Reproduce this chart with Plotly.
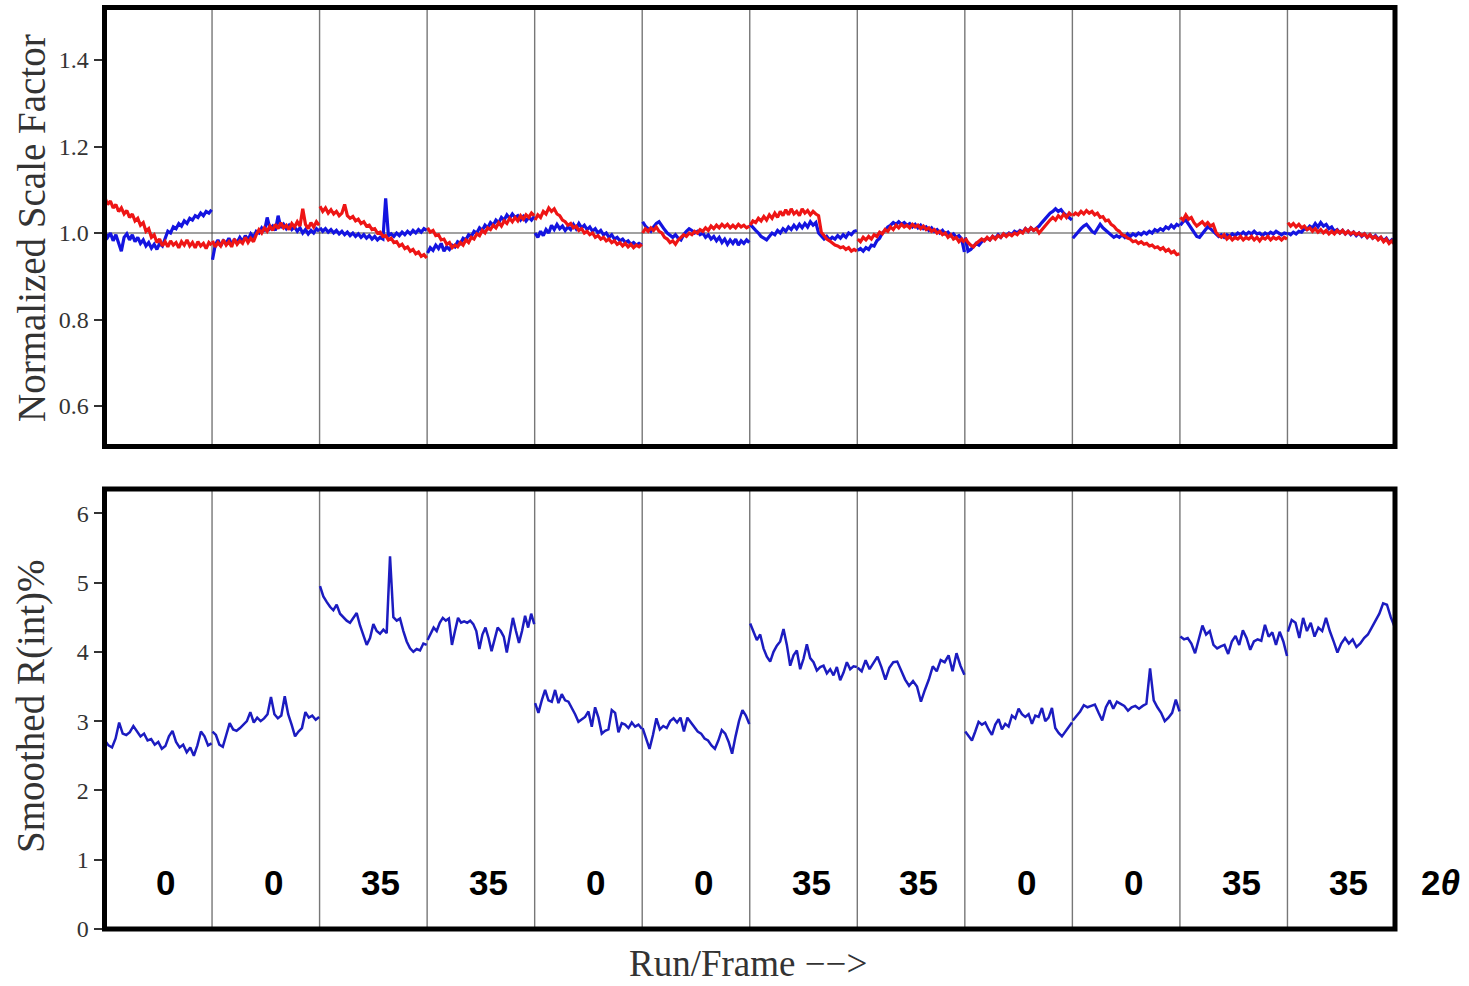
import numpy as np
import plotly.graph_objects as go

# ---------------- data ----------------
angle_labels = ["0", "0", "35", "35", "0", "0", "35", "35", "0", "0", "35", "35"]

scale_red = [
    [1.082, 1.066, 1.074, 1.058, 1.066, 1.05, 1.058, 1.044, 1.052, 1.036, 1.044, 1.028, 1.034, 1.018, 1.024, 1.004, 1.01, 0.99, 0.996, 0.978, 0.986, 0.97, 0.98, 0.968, 0.982, 0.972, 0.978, 0.966, 0.98, 0.972, 0.984, 0.97, 0.978, 0.966, 0.98, 0.97, 0.976, 0.964, 0.978, 0.972],
    [0.982, 0.968, 0.978, 0.97, 0.984, 0.972, 0.98, 0.968, 0.986, 0.974, 0.982, 0.976, 0.99, 0.978, 0.988, 0.98, 0.996, 1.008, 1.0, 1.012, 1.004, 1.016, 1.006, 1.02, 1.01, 1.024, 1.012, 1.018, 1.008, 1.022, 1.014, 1.026, 1.016, 1.056, 1.02, 1.01, 1.024, 1.014, 1.026, 1.018],
    [1.062, 1.05, 1.058, 1.046, 1.054, 1.044, 1.05, 1.04, 1.046, 1.066, 1.04, 1.034, 1.038, 1.028, 1.032, 1.022, 1.026, 1.016, 1.018, 1.008, 1.01, 1.0, 1.002, 0.992, 0.994, 0.984, 0.988, 0.978, 0.98, 0.97, 0.974, 0.964, 0.968, 0.958, 0.962, 0.952, 0.956, 0.946, 0.95, 0.942],
    [1.012, 1.002, 1.006, 0.994, 0.996, 0.984, 0.986, 0.974, 0.978, 0.966, 0.972, 0.968, 0.978, 0.972, 0.984, 0.978, 0.99, 0.986, 0.998, 0.994, 1.006, 1.0, 1.012, 1.008, 1.018, 1.012, 1.024, 1.016, 1.028, 1.022, 1.034, 1.026, 1.036, 1.028, 1.04, 1.032, 1.042, 1.036, 1.046, 1.04],
    [1.03, 1.042, 1.036, 1.05, 1.044, 1.058, 1.05, 1.056, 1.044, 1.04, 1.03, 1.026, 1.018, 1.022, 1.012, 1.016, 1.006, 1.01, 1.0, 1.004, 0.996, 1.0, 0.99, 0.994, 0.986, 0.99, 0.982, 0.986, 0.978, 0.982, 0.974, 0.978, 0.97, 0.976, 0.968, 0.974, 0.966, 0.972, 0.968, 0.974],
    [1.0, 1.01, 1.004, 1.012, 1.006, 1.014, 1.004, 1.0, 0.99, 0.986, 0.978, 0.982, 0.974, 0.984, 0.99, 0.996, 0.992, 1.0, 0.996, 1.004, 1.0, 1.008, 1.004, 1.012, 1.006, 1.016, 1.01, 1.018, 1.012, 1.02, 1.014, 1.02, 1.012, 1.018, 1.012, 1.02, 1.014, 1.018, 1.012, 1.016],
    [1.018, 1.028, 1.024, 1.034, 1.028, 1.038, 1.03, 1.042, 1.034, 1.046, 1.036, 1.05, 1.04, 1.054, 1.042, 1.056, 1.044, 1.05, 1.04, 1.056, 1.046, 1.052, 1.042, 1.05, 1.044, 1.04, 1.002, 0.994, 0.986, 0.982, 0.976, 0.972, 0.97, 0.966, 0.968, 0.962, 0.966, 0.958, 0.962, 0.958],
    [0.986, 0.98, 0.99, 0.984, 0.992, 0.986, 0.996, 0.992, 1.002, 0.998, 1.008, 1.004, 1.014, 1.008, 1.018, 1.012, 1.02, 1.014, 1.018, 1.012, 1.02, 1.014, 1.018, 1.01, 1.016, 1.008, 1.012, 1.004, 1.008, 1.0, 1.004, 0.996, 1.0, 0.99, 0.996, 0.986, 0.99, 0.98, 0.986, 0.978],
    [0.988, 0.978, 0.972, 0.968, 0.976, 0.98, 0.986, 0.982, 0.99, 0.984, 0.992, 0.986, 0.994, 0.99, 0.998, 0.992, 0.998, 0.994, 1.0, 0.996, 1.004, 1.0, 1.01, 1.004, 1.012, 1.006, 1.01, 1.0, 1.008, 1.016, 1.024, 1.03, 1.036, 1.03, 1.04, 1.034, 1.044, 1.036, 1.046, 1.04],
    [1.04, 1.046, 1.042, 1.05, 1.044, 1.052, 1.046, 1.05, 1.042, 1.046, 1.036, 1.038, 1.028, 1.03, 1.02, 1.016, 1.008, 1.004, 0.996, 0.994, 0.988, 0.986, 0.98, 0.982, 0.976, 0.98, 0.974, 0.976, 0.97, 0.972, 0.966, 0.968, 0.962, 0.966, 0.958, 0.962, 0.954, 0.958, 0.95, 0.952],
    [1.036, 1.03, 1.042, 1.032, 1.036, 1.024, 1.016, 1.022, 1.026, 1.018, 1.024, 1.016, 1.02, 1.002, 0.994, 0.99, 0.996, 0.986, 0.992, 0.984, 0.99, 0.986, 0.992, 0.984, 0.99, 0.986, 0.992, 0.984, 0.99, 0.982, 0.99, 0.986, 0.992, 0.984, 0.99, 0.986, 0.99, 0.984, 0.99, 0.986],
    [1.024, 1.016, 1.022, 1.014, 1.02, 1.012, 1.016, 1.008, 1.012, 1.004, 1.01, 1.002, 1.008, 1.0, 1.006, 0.998, 1.004, 0.998, 1.006, 1.0, 1.006, 0.998, 1.004, 0.998, 1.002, 0.996, 1.0, 0.994, 0.998, 0.99, 0.996, 0.988, 0.992, 0.984, 0.99, 0.98, 0.986, 0.976, 0.982, 0.974],
]

scale_blue = [
    [1.002, 0.99, 1.0, 0.982, 0.996, 0.975, 0.958, 0.99, 0.998, 0.984, 0.996, 0.98, 0.99, 0.976, 0.984, 0.97, 0.978, 0.965, 0.974, 0.962, 0.976, 0.97, 0.99, 1.004, 1.0, 1.014, 1.01, 1.022, 1.016, 1.028, 1.022, 1.034, 1.03, 1.04, 1.036, 1.046, 1.04, 1.05, 1.046, 1.054],
    [0.938, 0.972, 0.984, 0.97, 0.982, 0.976, 0.988, 0.974, 0.984, 0.978, 0.99, 0.98, 0.994, 0.984, 0.998, 0.99, 1.004, 1.0, 1.012, 1.004, 1.036, 1.01, 1.016, 1.006, 1.04, 1.012, 1.02, 1.01, 1.018, 1.008, 1.014, 1.004, 1.012, 1.0, 1.008, 0.998, 1.006, 1.0, 1.01, 1.004],
    [1.012, 1.004, 1.01, 1.002, 1.008, 1.0, 1.006, 0.998, 1.004, 0.996, 1.002, 0.994, 1.0, 0.992, 0.998, 0.99, 0.996, 0.988, 0.994, 0.986, 0.992, 0.984, 0.99, 0.986, 1.08, 0.994, 0.998, 0.992, 1.0, 0.994, 1.002, 0.996, 1.004, 0.998, 1.006, 1.0, 1.008, 1.002, 1.01, 1.006],
    [0.954, 0.966, 0.96, 0.972, 0.964, 0.976, 0.958, 0.968, 0.962, 0.972, 0.968, 0.98, 0.976, 0.988, 0.984, 0.996, 0.992, 1.004, 1.0, 1.012, 1.006, 1.018, 1.012, 1.024, 1.018, 1.03, 1.024, 1.036, 1.03, 1.042, 1.034, 1.044, 1.036, 1.04, 1.03, 1.038, 1.028, 1.036, 1.03, 1.038],
    [1.0, 0.99, 1.004, 0.994, 1.008, 1.0, 1.018, 1.008, 1.02, 1.01, 1.016, 1.006, 1.014, 1.008, 1.02, 1.01, 1.022, 1.012, 1.018, 1.008, 1.014, 1.004, 1.01, 1.0, 1.006, 0.996, 1.0, 0.99, 0.996, 0.986, 0.99, 0.982, 0.986, 0.978, 0.982, 0.974, 0.978, 0.972, 0.976, 0.972],
    [1.026, 1.016, 1.01, 1.004, 1.014, 1.022, 1.026, 1.016, 1.008, 1.0, 0.994, 0.99, 0.996, 0.988, 0.984, 0.996, 1.004, 1.01, 1.006, 1.0, 1.004, 0.996, 1.0, 0.99, 0.996, 0.986, 0.992, 0.982, 0.99, 0.978, 0.986, 0.974, 0.984, 0.976, 0.986, 0.972, 0.982, 0.976, 0.984, 0.978],
    [1.02, 1.012, 1.006, 1.0, 0.992, 0.988, 0.984, 0.992, 1.0, 0.996, 1.006, 1.0, 1.01, 1.004, 1.014, 1.008, 1.018, 1.01, 1.02, 1.012, 1.022, 1.014, 1.026, 1.018, 1.024, 1.0, 0.992, 0.986, 0.992, 0.984, 0.99, 0.986, 0.994, 0.988, 0.996, 0.99, 1.0, 0.996, 1.004, 1.006],
    [0.96, 0.964, 0.958, 0.966, 0.962, 0.972, 0.97, 0.982, 0.988, 1.0, 1.006, 1.014, 1.018, 1.024, 1.02, 1.026, 1.02, 1.024, 1.018, 1.022, 1.014, 1.02, 1.012, 1.018, 1.01, 1.014, 1.006, 1.012, 1.004, 1.008, 1.0, 1.006, 0.998, 1.002, 0.994, 0.998, 0.99, 0.994, 0.986, 0.956],
    [0.99, 0.958, 0.962, 0.97, 0.976, 0.972, 0.98, 0.984, 0.988, 0.984, 0.992, 0.988, 0.996, 0.99, 0.998, 0.994, 1.0, 0.996, 1.004, 1.0, 1.006, 1.002, 1.01, 1.004, 1.012, 1.006, 1.01, 1.016, 1.024, 1.032, 1.04, 1.046, 1.05, 1.056, 1.05, 1.054, 1.046, 1.04, 1.034, 1.03],
    [0.988, 0.996, 1.004, 1.01, 1.016, 1.02, 1.012, 1.004, 1.0, 1.01, 1.02, 1.012, 1.006, 1.0, 0.996, 0.99, 0.994, 0.99, 0.996, 0.99, 0.998, 0.992, 0.998, 0.994, 1.0, 0.996, 1.002, 0.998, 1.004, 1.0, 1.008, 1.004, 1.01, 1.006, 1.014, 1.01, 1.018, 1.012, 1.02, 1.016],
    [1.018, 1.026, 1.03, 1.02, 1.01, 1.0, 0.992, 0.99, 0.998, 1.008, 1.014, 1.01, 1.004, 0.998, 0.992, 0.996, 0.99, 0.996, 0.992, 0.998, 0.994, 1.0, 0.996, 1.002, 0.996, 1.002, 0.998, 1.004, 0.998, 1.0, 0.994, 1.0, 0.996, 1.002, 0.998, 1.004, 1.0, 0.996, 1.0, 0.998],
    [1.0, 0.996, 1.002, 0.998, 1.004, 1.002, 1.01, 1.008, 1.016, 1.012, 1.022, 1.014, 1.024, 1.016, 1.02, 1.01, 1.014, 1.004, 1.008, 1.0, 1.006, 0.998, 1.004, 0.996, 1.002, 0.994, 1.0, 0.992, 0.998, 0.99, 0.996, 0.988, 0.994, 0.986, 0.99, 0.982, 0.988, 0.978, 0.984, 0.976],
]

rint = [
    [2.72, 2.65, 2.62, 2.75, 2.98, 2.82, 2.8, 2.84, 2.93, 2.86, 2.78, 2.82, 2.72, 2.74, 2.66, 2.7, 2.6, 2.64, 2.78, 2.86, 2.7, 2.62, 2.66, 2.55, 2.62, 2.5, 2.65, 2.85, 2.78, 2.65, 2.68],
    [2.85, 2.8, 2.66, 2.63, 2.8, 2.97, 2.88, 2.86, 2.9, 2.95, 3.0, 3.13, 2.98, 3.05, 3.0, 3.04, 3.1, 3.35, 3.1, 3.04, 3.08, 3.36, 3.1, 2.95, 2.78, 2.85, 2.9, 3.13, 3.05, 3.08, 3.02, 3.06],
    [4.95, 4.8, 4.72, 4.65, 4.6, 4.68, 4.55, 4.5, 4.45, 4.42, 4.5, 4.56, 4.38, 4.25, 4.1, 4.2, 4.4, 4.3, 4.26, 4.32, 4.27, 5.38, 4.5, 4.45, 4.48, 4.3, 4.15, 4.05, 4.0, 4.04, 4.02, 4.12, 4.1],
    [4.17, 4.25, 4.35, 4.3, 4.42, 4.49, 4.45, 4.48, 4.1, 4.3, 4.49, 4.42, 4.44, 4.42, 4.45, 4.4, 4.3, 4.04, 4.25, 4.35, 4.2, 4.01, 4.2, 4.35, 4.3, 4.22, 3.99, 4.25, 4.49, 4.3, 4.13, 4.3, 4.52, 4.35, 4.55, 4.4],
    [3.26, 3.12, 3.3, 3.45, 3.3, 3.28, 3.45, 3.26, 3.39, 3.3, 3.28, 3.2, 3.1, 2.99, 3.02, 3.06, 3.14, 2.92, 3.2, 3.05, 2.82, 2.86, 2.88, 3.16, 3.12, 2.84, 2.97, 2.95, 2.9, 2.98, 2.92, 2.95, 2.89],
    [2.9, 2.75, 2.6, 2.8, 3.04, 2.88, 2.93, 2.9, 3.0, 3.04, 2.98, 3.05, 2.85, 3.05, 2.98, 2.92, 2.85, 2.82, 2.75, 2.72, 2.65, 2.6, 2.72, 2.87, 2.82, 2.7, 2.53, 2.78, 3.0, 3.16, 3.08, 2.96],
    [4.41, 4.3, 4.17, 4.25, 4.05, 3.93, 3.86, 4.0, 4.09, 4.15, 4.33, 4.1, 3.8, 3.95, 4.02, 3.75, 3.9, 4.11, 3.91, 3.85, 3.73, 3.78, 3.8, 3.69, 3.75, 3.66, 3.78, 3.59, 3.7, 3.85, 3.75, 3.79, 3.78],
    [3.77, 3.72, 3.88, 3.75, 3.84, 3.93, 3.78, 3.6, 3.77, 3.85, 3.86, 3.72, 3.6, 3.51, 3.58, 3.5, 3.28, 3.45, 3.6, 3.79, 3.72, 3.88, 3.85, 3.95, 3.72, 3.98, 3.8, 3.67],
    [2.85, 2.78, 2.72, 2.85, 2.99, 2.95, 2.98, 2.88, 2.8, 2.95, 3.03, 2.88, 2.96, 2.92, 3.08, 3.04, 3.18, 3.1, 3.06, 3.1, 2.96, 3.08, 3.06, 3.19, 3.0, 3.05, 3.19, 2.9, 2.83, 2.78, 2.85, 2.92, 2.98],
    [3.01, 3.08, 3.14, 3.23, 3.2, 3.22, 3.24, 3.12, 3.01, 3.2, 3.3, 3.18, 3.28, 3.25, 3.22, 3.15, 3.2, 3.22, 3.18, 3.22, 3.25, 3.76, 3.3, 3.2, 3.12, 3.0, 3.05, 3.12, 3.31, 3.14],
    [4.22, 4.18, 4.2, 4.12, 3.98, 4.2, 4.38, 4.25, 4.3, 4.1, 4.05, 4.08, 4.1, 3.97, 4.15, 4.23, 4.1, 4.31, 4.2, 4.03, 4.15, 4.18, 4.16, 4.39, 4.22, 4.28, 4.1, 4.29, 4.15, 3.94],
    [4.29, 4.46, 4.42, 4.2, 4.49, 4.3, 4.42, 4.22, 4.35, 4.3, 4.49, 4.3, 4.15, 3.99, 4.12, 4.2, 4.12, 4.18, 4.07, 4.12, 4.2, 4.25, 4.35, 4.45, 4.55, 4.7, 4.68, 4.5, 4.36],
]

n_runs = len(angle_labels)


def build(segs):
    xs, ys = [], []
    for i, seg in enumerate(segs):
        xs += list(np.linspace(i + 0.004, i + 0.996, len(seg)))
        ys += list(seg)
        xs.append(None)
        ys.append(None)
    return xs, ys


fig = go.Figure()

bx, by = build(scale_blue)
rx, ry = build(scale_red)
fig.add_trace(go.Scatter(x=bx, y=by, mode="lines", line=dict(color="#1414e0", width=3.2),
                         xaxis="x", yaxis="y", showlegend=False, connectgaps=False))
fig.add_trace(go.Scatter(x=rx, y=ry, mode="lines", line=dict(color="#ee1515", width=3.2),
                         xaxis="x", yaxis="y", showlegend=False, connectgaps=False))

ix, iy = build(rint)
fig.add_trace(go.Scatter(x=ix, y=iy, mode="lines", line=dict(color="#1c1cc0", width=2.5),
                         xaxis="x2", yaxis="y2", showlegend=False, connectgaps=False))

W, H = 1469, 986
xdom = [104.5 / W, 1395 / W]
top_dom = [1 - 446.5 / H, 1 - 7.5 / H]
bot_dom = [1 - 929 / H, 1 - 489 / H]

serif = "Liberation Serif, Times New Roman, serif"
sans = "Liberation Sans, Arial, sans-serif"
tickfont = dict(family=serif, size=24, color="#333333")

shapes = []
for k in range(1, n_runs):
    for xr, yr in (("x", "y domain"), ("x2", "y2 domain")):
        shapes.append(dict(type="line", xref=xr, yref=yr, x0=k, x1=k, y0=0, y1=1,
                           line=dict(color="#777777", width=1.4), layer="below"))
shapes.append(dict(type="line", xref="x domain", yref="y", x0=0, x1=1, y0=1.0, y1=1.0,
                   line=dict(color="#444444", width=1.2), layer="below"))
for xr, yr in (("x domain", "y domain"), ("x2 domain", "y2 domain")):
    shapes.append(dict(type="rect", xref=xr, yref=yr, x0=0, x1=1, y0=0, y1=1,
                       line=dict(color="black", width=5), layer="above"))

annotations = []
for i, lab in enumerate(angle_labels):
    annotations.append(dict(x=i + 0.57, y=0.67, xref="x2", yref="y2", text="<b>%s</b>" % lab,
                            xanchor="center", yanchor="middle", showarrow=False,
                            font=dict(family=sans, size=35, color="black")))
annotations.append(dict(x=1440 / W, y=1 - 882 / H, xref="paper", yref="paper", text="<b>2<i>θ</i></b>",
                        xanchor="center", yanchor="middle", showarrow=False,
                        font=dict(family=sans, size=35, color="black")))
annotations.append(dict(x=31 / W, y=1 - 228 / H, xref="paper", yref="paper", text="Normalized Scale Factor",
                        textangle=-90, xanchor="center", yanchor="middle", showarrow=False,
                        font=dict(family=serif, size=39, color="#333333")))
annotations.append(dict(x=31 / W, y=1 - 706 / H, xref="paper", yref="paper", text="Smoothed R(int)%",
                        textangle=-90, xanchor="center", yanchor="middle", showarrow=False,
                        font=dict(family=serif, size=39, color="#333333")))
annotations.append(dict(x=748 / W, y=1 - 963 / H, xref="paper", yref="paper", text="Run/Frame −−&gt;",
                        xanchor="center", yanchor="middle", showarrow=False,
                        font=dict(family=serif, size=37, color="#333333")))

fig.update_layout(
    width=W, height=H, autosize=False,
    margin=dict(l=0, r=0, t=0, b=0, pad=0),
    paper_bgcolor="white", plot_bgcolor="white",
    xaxis=dict(domain=xdom, range=[0, n_runs], showgrid=False, zeroline=False, showticklabels=False,
               ticks="", anchor="y"),
    yaxis=dict(domain=top_dom, range=[0.5064, 1.5214], showgrid=False, zeroline=False,
               tickvals=[0.6, 0.8, 1.0, 1.2, 1.4], ticktext=["0.6", "0.8", "1.0", "1.2", "1.4"],
               ticks="outside", ticklen=10, tickwidth=1.6, tickcolor="#333333", tickfont=tickfont,
               anchor="x", automargin=False),
    xaxis2=dict(domain=xdom, range=[0, n_runs], showgrid=False, zeroline=False, showticklabels=False,
                ticks="", anchor="y2"),
    yaxis2=dict(domain=bot_dom, range=[0, 6.35], showgrid=False, zeroline=False,
                tickvals=[0, 1, 2, 3, 4, 5, 6],
                ticks="outside", ticklen=10, tickwidth=1.6, tickcolor="#333333", tickfont=tickfont,
                anchor="x2", automargin=False),
    shapes=shapes,
    annotations=annotations,
)

fig.write_html("out.html", config={"displayModeBar": False, "responsive": False},
               post_script="document.body.style.margin='0px';document.body.style.overflow='hidden';")
